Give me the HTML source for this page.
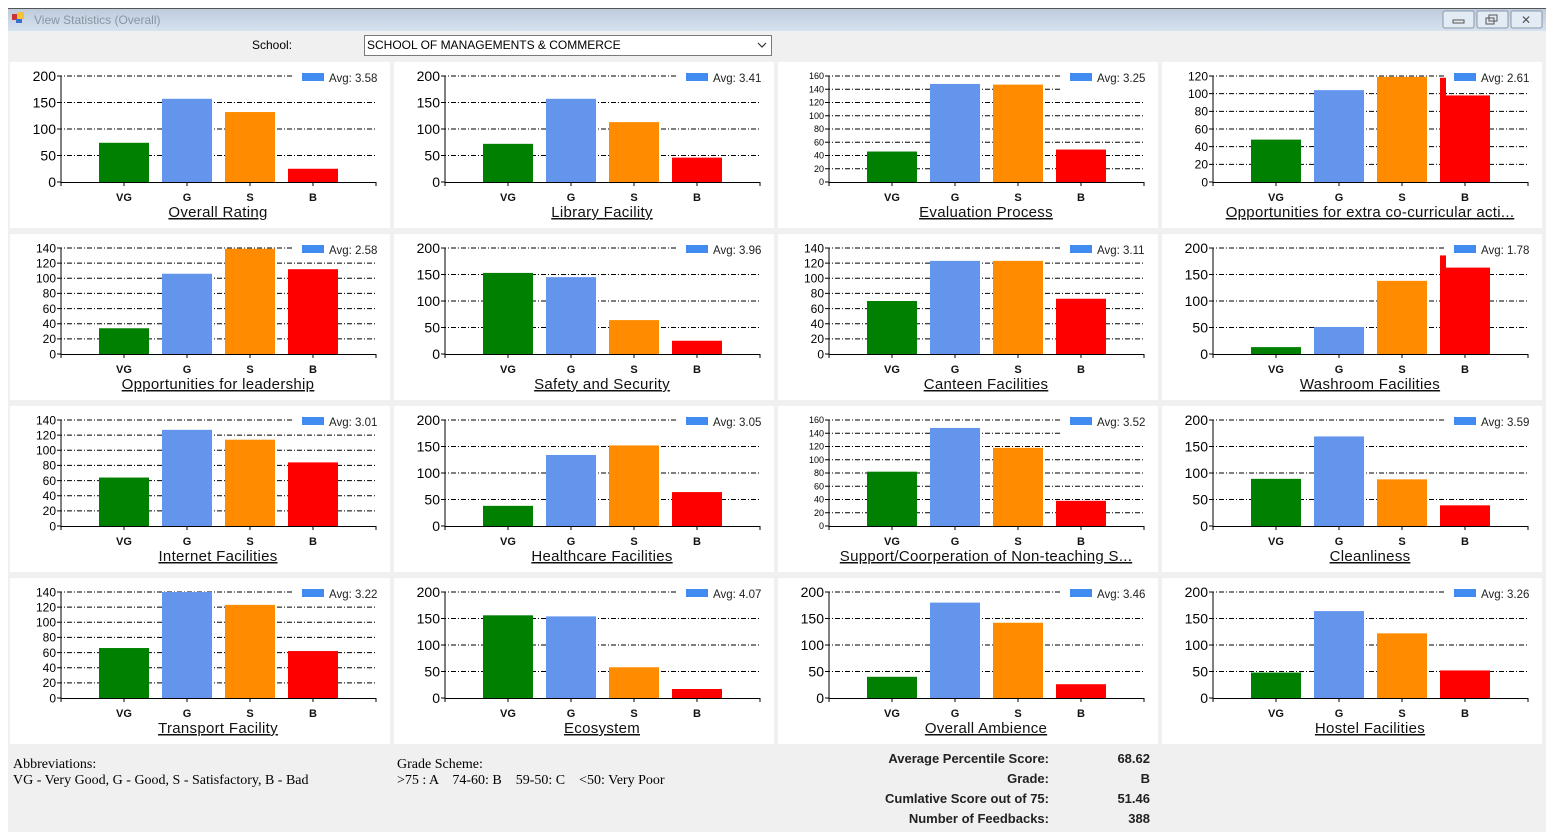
<!DOCTYPE html>
<html><head><meta charset="utf-8"><style>
html,body{margin:0;padding:0;background:#fff;}
svg{display:block;}
</style></head><body>
<svg id="s" width="1552" height="840" xmlns="http://www.w3.org/2000/svg" font-family="Liberation Sans, sans-serif">
<defs><linearGradient id="tb" x1="0" y1="0" x2="0" y2="1"><stop offset="0" stop-color="#bccadb"/><stop offset="1" stop-color="#d6e2ef"/></linearGradient></defs>
<rect x="8" y="8" width="1538" height="824" fill="#f0f0f0"/>
<rect x="8" y="8" width="1538" height="23" fill="url(#tb)"/>
<line x1="8" y1="8.5" x2="1546" y2="8.5" stroke="#555"/>
<rect x="12" y="14" width="6" height="6" fill="#c33"/><rect x="17" y="12" width="7" height="7" fill="#f5c23a"/><rect x="16" y="19" width="6" height="4" fill="#3a6fd0"/>
<text x="34" y="24" font-size="12" fill="#8a96a4">View Statistics (Overall)</text>
<g fill="#e3ebf4" stroke="#8a98aa"><rect x="1443" y="11" width="31" height="17" rx="2"/><rect x="1477" y="11" width="31" height="17" rx="2"/><rect x="1511" y="11" width="31" height="17" rx="2"/></g>
<rect x="1453" y="20" width="11" height="3" fill="none" stroke="#555"/>
<rect x="1486" y="18" width="8" height="6" fill="none" stroke="#555"/><rect x="1489" y="15" width="8" height="6" fill="none" stroke="#555"/>
<text x="1526" y="24" font-size="12" text-anchor="middle" fill="#555">✕</text>
<text x="252" y="49" font-size="12" fill="#000">School:</text>
<rect x="364.5" y="35.5" width="407" height="20" fill="#fff" stroke="#7a7a7a"/>
<text x="367" y="49" font-size="12" fill="#000">SCHOOL OF MANAGEMENTS &amp; COMMERCE</text>
<path d="M758 43 l4 4 l4 -4" fill="none" stroke="#333" stroke-width="1.2"/>
<g id="charts"></g>
<g font-family="Liberation Serif, serif" font-size="14" fill="#000">
<text x="13" y="768">Abbreviations:</text>
<text x="13" y="784">VG - Very Good, G - Good, S - Satisfactory, B - Bad</text>
<text x="397" y="768">Grade Scheme:</text>
<text x="397" y="784" xml:space="preserve">&gt;75 : A    74-60: B    59-50: C    &lt;50: Very Poor</text>
</g>
<g font-size="13" font-weight="bold" fill="#222">
<text x="1049" y="763" text-anchor="end">Average Percentile Score:</text>
<text x="1049" y="783" text-anchor="end">Grade:</text>
<text x="1049" y="803" text-anchor="end">Cumlative Score out of 75:</text>
<text x="1049" y="823" text-anchor="end">Number of Feedbacks:</text>
<text x="1150" y="763" text-anchor="end">68.62</text>
<text x="1150" y="783" text-anchor="end">B</text>
<text x="1150" y="803" text-anchor="end">51.46</text>
<text x="1150" y="823" text-anchor="end">388</text>
</g>
</svg>
<script>
var D=[
["Overall Rating",200,[74,157,132,25],"3.58"],
["Library Facility",200,[72,157,113,46],"3.41"],
["Evaluation Process",160,[46,148,147,49],"3.25"],
["Opportunities for extra co-curricular acti...",120,[48,104,119,98],"2.61",118],
["Opportunities for leadership",140,[34,106,139,112],"2.58"],
["Safety and Security",200,[153,145,64,25],"3.96"],
["Canteen Facilities",140,[70,123,123,73],"3.11"],
["Washroom Facilities",200,[13,51,138,163],"1.78",186],
["Internet Facilities",140,[64,127,114,84],"3.01"],
["Healthcare Facilities",200,[38,134,152,64],"3.05"],
["Support/Coorperation of Non-teaching S...",160,[82,148,118,38],"3.52"],
["Cleanliness",200,[89,169,88,39],"3.59"],
["Transport Facility",140,[66,140,123,62],"3.22"],
["Ecosystem",200,[156,154,58,17],"4.07"],
["Overall Ambience",200,[40,180,142,26],"3.46"],
["Hostel Facilities",200,[48,164,122,52],"3.26"]];
var cols=["#008000","#6495ed","#ff8c00","#ff0000"],cats=["VG","G","S","B"];
var h="";
D.forEach(function(d,i){
 var px=10+(i%4)*384, py=62+Math.floor(i/4)*172;
 var ax=px+51, top=py+14, bot=py+120, right=px+366, H=bot-top;
 h+='<rect x="'+px+'" y="'+py+'" width="380" height="166" fill="#fff"/>';
 var max=d[1], step=(max==200)?50:20, fs=(max==200)?14:(max==160?9:12);
 for(var v=0;v<=max;v+=step){
  var y=bot-v/max*H;
  if(v>0){var x2=(y-py<28.5)?px+282:right;
   h+='<line x1="'+(ax-4)+'" y1="'+y+'" x2="'+x2+'" y2="'+y+'" stroke="#000" stroke-dasharray="5 2 1 2"/>';}
  else h+='<line x1="'+(ax-4)+'" y1="'+y+'" x2="'+ax+'" y2="'+y+'" stroke="#000"/>';
  h+='<text x="'+(ax-5)+'" y="'+(y+fs*0.36)+'" font-size="'+fs+'" text-anchor="end" fill="#000">'+v+'</text>';
 }
 d[2].forEach(function(v,k){
  var cx=ax+63*(k+1), y=bot-v/max*H;
  h+='<rect x="'+(cx-25)+'" y="'+y+'" width="50" height="'+(bot-y)+'" fill="'+cols[k]+'"/>';
  h+='<line x1="'+cx+'" y1="'+bot+'" x2="'+cx+'" y2="'+(bot+4)+'" stroke="#000"/>';
  h+='<text x="'+cx+'" y="'+(bot+19)+'" font-size="11" font-weight="bold" text-anchor="middle" fill="#111">'+cats[k]+'</text>';
 });
 if(d[4]){var cx=ax+63*4,y=bot-d[4]/max*H;h+='<rect x="'+(cx-25)+'" y="'+y+'" width="6" height="'+(bot-y)+'" fill="#ff0000"/>';}
 h+='<line x1="'+ax+'" y1="'+top+'" x2="'+ax+'" y2="'+(bot+4)+'" stroke="#000"/>';
 h+='<line x1="'+ax+'" y1="'+(bot+0.5)+'" x2="'+right+'" y2="'+(bot+0.5)+'" stroke="#000"/>';
 h+='<line x1="'+right+'" y1="'+bot+'" x2="'+right+'" y2="'+(bot+4)+'" stroke="#000"/>';
 h+='<rect x="'+(px+292)+'" y="'+(py+11)+'" width="22" height="8" fill="#418cf0"/>';
 h+='<text x="'+(px+319)+'" y="'+(py+20)+'" font-size="11.5" fill="#222">Avg: '+d[3]+'</text>';
 h+='<text x="'+(px+208)+'" y="'+(py+155)+'" font-size="15" text-anchor="middle" fill="#111" text-decoration="underline" letter-spacing="0.3">'+d[0]+'</text>';
});
document.getElementById("charts").innerHTML=h;
</script>
</body></html>
